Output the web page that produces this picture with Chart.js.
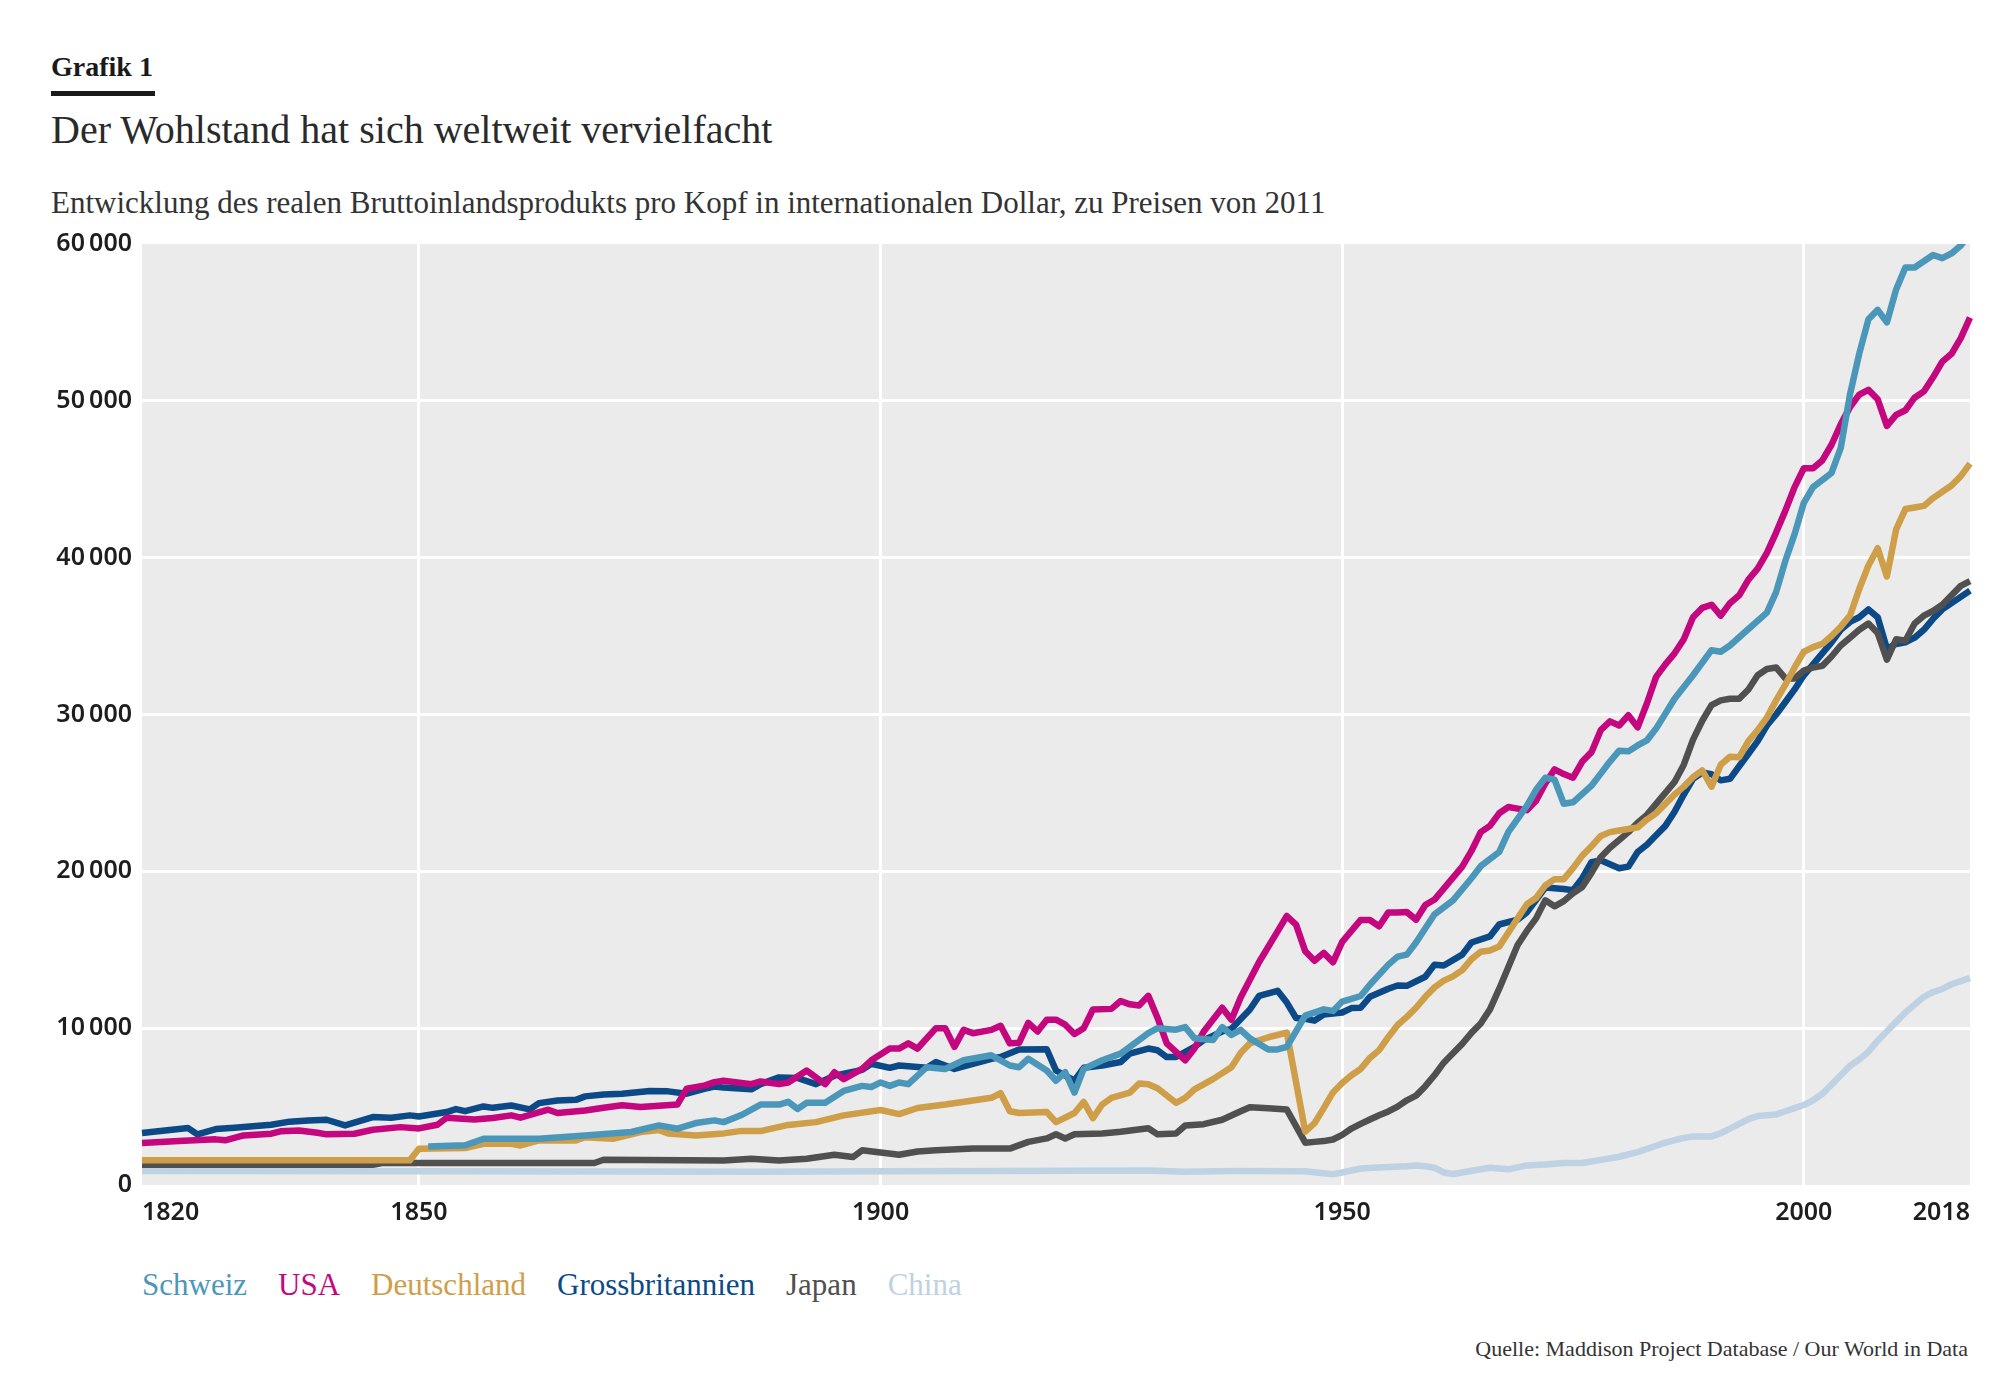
<!DOCTYPE html>
<html lang="de">
<head>
<meta charset="utf-8">
<title>Grafik 1</title>
<script src="https://cdn.jsdelivr.net/npm/chart.js@4.4.1/dist/chart.umd.min.js"></script>
<style>
  body { margin: 0; width: 2000px; height: 1392px; background: #fff; position: relative; overflow: hidden; }
  .txt { position: absolute; line-height: 1; white-space: nowrap; font-family: "Liberation Serif", serif; color: #222; }
  #kicker { left: 51px; top: 53px; font-size: 28px; font-weight: bold; color: #1a1a1a; }
  #bar { position: absolute; left: 51px; top: 91px; width: 104px; height: 5px; background: #1a1a1a; }
  #title { left: 51px; top: 110px; font-size: 40px; color: #2a2a2a; }
  #subtitle { left: 51px; top: 187px; font-size: 31px; color: #333; }
  #legend { left: 142px; top: 1269px; font-size: 31px; display: flex; gap: 31px; }
  #source { right: 32px; top: 1338px; font-size: 22px; color: #333; }
  #wrap { position: absolute; left: 40px; top: 219px; width: 1940px; height: 1026px; }
</style>
</head>
<body>
<div class="txt" id="kicker">Grafik 1</div>
<div id="bar"></div>
<div class="txt" id="title">Der Wohlstand hat sich weltweit vervielfacht</div>
<div class="txt" id="subtitle">Entwicklung des realen Bruttoinlandsprodukts pro Kopf in internationalen Dollar, zu Preisen von 2011</div>
<div id="wrap"><canvas id="gdp"></canvas></div>
<div class="txt" id="legend"></div>
<div class="txt" id="source">Quelle: Maddison Project Database / Our World in Data</div>

<script>
// DATEN (BIP pro Kopf)
const xTickLabels = [1820, 1850, 1900, 1950, 2000, 2018];
const yTickLabels = [0, 10000, 20000, 30000, 40000, 50000, 60000];

const schweizYears = [
  1851, 1855, 1857, 1863, 1868, 1873, 1876, 1878, 1880, 1882,
  1883, 1885, 1887, 1889, 1890, 1891, 1892, 1894, 1896, 1898,
  1899, 1900, 1901, 1902, 1903, 1905, 1907, 1909, 1912, 1914,
  1915, 1916, 1918, 1919, 1920, 1921, 1922, 1924, 1926, 1927,
  1929, 1930, 1932, 1933, 1934, 1936, 1937, 1938, 1939, 1940,
  1942, 1943, 1944, 1946, 1948, 1949, 1950, 1951, 1952, 1953,
  1955, 1956, 1957, 1958, 1960, 1962, 1964, 1965, 1967, 1968,
  1970, 1971, 1972, 1973, 1974, 1975, 1977, 1978, 1979, 1980,
  1981, 1982, 1983, 1984, 1986, 1988, 1990, 1991, 1992, 1994,
  1996, 1997, 1998, 1999, 2000, 2001, 2003, 2004, 2005, 2006,
  2007, 2008, 2009, 2010, 2011, 2012, 2014, 2015, 2016, 2017, 2018,
];
const schweizValues = [
  2450, 2530, 2950, 2950, 3160, 3380, 3800, 3590, 3950, 4120,
  4010, 4480, 5130, 5130, 5300, 4850, 5240, 5250, 6000, 6320,
  6250, 6540, 6320, 6540, 6430, 7510, 7400, 7950, 8270, 7620,
  7510, 8050, 7300, 6650, 7190, 5890, 7400, 7950, 8380, 8810,
  9680, 10000, 9900, 10070, 9350, 9240, 10070, 9570, 9890, 9350,
  8640, 8640, 8810, 10800, 11200, 11100, 11700, 11870, 12050, 12770,
  14050, 14560, 14690, 15460, 17260, 18150, 19560, 20330, 21230, 22510,
  24180, 25200, 25970, 25850, 24310, 24400, 25460, 26230, 27000, 27690,
  27650, 28030, 28350, 29100, 31000, 32500, 34100, 34000, 34400, 35450,
  36500, 37800, 39800, 41500, 43500, 44500, 45400, 47000, 50400, 53000,
  55200, 55800, 55000, 57100, 58500, 58500, 59300, 59100, 59400, 59900, 60700,
];

const usaYears = [
  1820, 1824, 1828, 1829, 1831, 1834, 1835, 1837, 1839, 1840,
  1843, 1845, 1848, 1850, 1852, 1853, 1856, 1858, 1860, 1861,
  1864, 1865, 1868, 1870, 1872, 1874, 1876, 1878, 1879, 1881,
  1882, 1883, 1886, 1887, 1889, 1890, 1892, 1894, 1895, 1896,
  1898, 1899, 1901, 1902, 1903, 1904, 1906, 1907, 1908, 1909,
  1910, 1912, 1913, 1914, 1915, 1916, 1917, 1918, 1919, 1920,
  1921, 1922, 1923, 1925, 1926, 1927, 1928, 1929, 1930, 1931,
  1933, 1934, 1935, 1937, 1938, 1939, 1941, 1943, 1944, 1945,
  1946, 1947, 1948, 1949, 1950, 1951, 1952, 1953, 1954, 1955,
  1956, 1957, 1958, 1959, 1960, 1961, 1962, 1963, 1964, 1965,
  1966, 1967, 1968, 1969, 1970, 1971, 1972, 1973, 1974, 1975,
  1976, 1977, 1978, 1979, 1980, 1981, 1982, 1983, 1984, 1985,
  1986, 1987, 1988, 1989, 1990, 1991, 1992, 1993, 1994, 1995,
  1996, 1997, 1998, 1999, 2000, 2001, 2002, 2003, 2004, 2005,
  2006, 2007, 2008, 2009, 2010, 2011, 2012, 2013, 2014, 2015, 2016, 2017, 2018,
];
const usaValues = [
  2675, 2800, 2910, 2850, 3160, 3270, 3420, 3480, 3330, 3230,
  3270, 3520, 3690, 3610, 3840, 4290, 4180, 4270, 4440, 4290,
  4800, 4590, 4750, 4930, 5080, 4970, 5050, 5140, 6140, 6350,
  6560, 6650, 6430, 6600, 6430, 6540, 7300, 6430, 7190, 6750,
  7400, 7950, 8700, 8700, 9030, 8700, 10000, 10000, 8810, 9890,
  9680, 9890, 10150, 9030, 9070, 10330, 9790, 10540, 10540, 10220,
  9630, 10000, 11190, 11230, 11730, 11520, 11450, 12060, 10650, 9030,
  7950, 8700, 9790, 11300, 10540, 11950, 14220, 16170, 17150, 16600,
  14900, 14300, 14800, 14200, 15500, 16200, 16900, 16900, 16500, 17380,
  17380, 17400, 16920, 17850, 18200, 18900, 19600, 20300, 21300, 22500,
  22900, 23700, 24100, 24000, 23900, 24500, 25600, 26500, 26200, 25970,
  27000, 27600, 29000, 29560, 29300, 29950, 29180, 30700, 32400, 33200,
  33900, 34800, 36200, 36800, 37000, 36300, 37100, 37600, 38600, 39300,
  40300, 41600, 43000, 44500, 45700, 45700, 46200, 47200, 48500, 49600,
  50400, 50700, 50100, 48400, 49100, 49400, 50200, 50600, 51500, 52500, 53000, 54000, 55300,
];

const deutschlandYears = [
  1820, 1849, 1850, 1855, 1857, 1860, 1861, 1863, 1867, 1868,
  1871, 1874, 1876, 1877, 1880, 1883, 1885, 1887, 1890, 1893,
  1896, 1900, 1902, 1904, 1907, 1910, 1912, 1913, 1914, 1915,
  1918, 1919, 1921, 1922, 1923, 1924, 1925, 1927, 1928, 1929,
  1930, 1932, 1933, 1934, 1936, 1938, 1939, 1940, 1942, 1944,
  1946, 1947, 1948, 1949, 1950, 1951, 1952, 1953, 1954, 1955,
  1956, 1957, 1958, 1959, 1960, 1961, 1962, 1963, 1964, 1965,
  1966, 1967, 1968, 1969, 1970, 1971, 1972, 1973, 1974, 1975,
  1976, 1977, 1978, 1979, 1980, 1981, 1982, 1983, 1984, 1985,
  1986, 1987, 1988, 1989, 1990, 1991, 1992, 1993, 1994, 1995,
  1996, 1997, 1998, 1999, 2000, 2001, 2002, 2003, 2004, 2005,
  2006, 2007, 2008, 2009, 2010, 2011, 2012, 2013, 2014, 2015, 2016, 2017, 2018,
];
const deutschlandValues = [
  1571, 1571, 2314, 2360, 2630, 2630, 2520, 2840, 2840, 3050,
  2950, 3380, 3500, 3290, 3160, 3290, 3450, 3440, 3830, 4010,
  4440, 4780, 4520, 4910, 5130, 5390, 5560, 5850, 4700, 4590,
  4650, 4010, 4590, 5300, 4260, 5130, 5560, 5890, 6470, 6430,
  6170, 5240, 5560, 6100, 6750, 7510, 8420, 9030, 9420, 9720,
  3400, 3940, 4900, 5900, 6500, 7000, 7400, 8100, 8600, 9440,
  10200, 10720, 11300, 12000, 12600, 13030, 13300, 13700, 14400, 14870,
  14950, 15200, 16100, 17000, 17900, 18300, 19100, 19500, 19500, 20200,
  21000, 21600, 22250, 22500, 22600, 22700, 22800, 23300, 23700, 24300,
  24900, 25400, 26000, 26430, 25400, 26800, 27300, 27280, 28300, 29000,
  29800, 30900, 31900, 33000, 34000, 34300, 34500, 35000, 35600, 36300,
  38000, 39500, 40600, 38800, 41800, 43100, 43200, 43300, 43800, 44200, 44600, 45200, 46000,
];

const grossbritannienYears = [
  1820, 1825, 1826, 1828, 1830, 1834, 1836, 1838, 1840, 1842,
  1845, 1847, 1849, 1850, 1853, 1854, 1855, 1857, 1858, 1860,
  1862, 1863, 1865, 1867, 1868, 1870, 1872, 1875, 1877, 1879,
  1881, 1882, 1883, 1886, 1887, 1889, 1891, 1893, 1895, 1898,
  1899, 1901, 1902, 1905, 1906, 1908, 1910, 1912, 1913, 1915,
  1918, 1919, 1921, 1922, 1924, 1926, 1927, 1929, 1930, 1931,
  1932, 1934, 1935, 1937, 1938, 1940, 1941, 1943, 1944, 1945,
  1946, 1947, 1948, 1950, 1951, 1952, 1953, 1955, 1956, 1957,
  1959, 1960, 1961, 1963, 1964, 1966, 1967, 1969, 1970, 1972,
  1974, 1975, 1976, 1977, 1978, 1980, 1981, 1982, 1983, 1984,
  1985, 1986, 1987, 1988, 1989, 1990, 1991, 1992, 1993, 1994,
  1995, 1996, 1997, 1998, 1999, 2000, 2001, 2002, 2003, 2004,
  2005, 2006, 2007, 2008, 2009, 2010, 2011, 2012, 2013, 2014, 2015, 2016, 2017, 2018,
];
const grossbritannienValues = [
  3312, 3630, 3227, 3567, 3650, 3840, 4040, 4120, 4160, 3800,
  4330, 4290, 4440, 4370, 4650, 4840, 4710, 5010, 4920, 5070,
  4820, 5220, 5390, 5430, 5650, 5770, 5820, 5990, 5970, 5820,
  6140, 6280, 6210, 6100, 6430, 6860, 6820, 6430, 6970, 7340,
  7730, 7470, 7620, 7470, 7840, 7400, 7730, 8050, 8160, 8640,
  8660, 7300, 6650, 7470, 7620, 7840, 8380, 8700, 8590, 8160,
  8160, 8810, 9240, 9790, 9960, 11190, 12060, 12380, 11630, 10650,
  10600, 10480, 10870, 11000, 11280, 11300, 12000, 12510, 12720, 12700,
  13280, 14050, 14000, 14690, 15460, 15850, 16610, 16920, 17380, 18970,
  18870, 18800, 19560, 20590, 20700, 20200, 20300, 21230, 21700, 22300,
  22900, 23800, 24900, 25900, 26300, 26200, 25800, 25900, 26700, 27500,
  28300, 29300, 30000, 30800, 31600, 32500, 33200, 33900, 34600, 35400,
  35900, 36200, 36700, 36200, 34200, 34500, 34600, 34900, 35400, 36100, 36700, 37100, 37500, 37900,
];

const japanYears = [
  1820, 1845, 1846, 1869, 1870, 1883, 1886, 1889, 1892, 1895,
  1897, 1898, 1902, 1904, 1906, 1910, 1914, 1916, 1918, 1919,
  1920, 1921, 1924, 1926, 1929, 1930, 1932, 1933, 1935, 1937,
  1939, 1940, 1942, 1944, 1946, 1947, 1948, 1949, 1950,
  1951, 1952, 1953, 1954, 1955, 1956, 1957, 1958, 1959, 1960,
  1961, 1962, 1963, 1964, 1965, 1966, 1967, 1968, 1969, 1970,
  1971, 1972, 1973, 1974, 1975, 1976, 1977, 1978, 1979, 1980,
  1981, 1982, 1983, 1984, 1985, 1986, 1987, 1988, 1989, 1990,
  1991, 1992, 1993, 1994, 1995, 1996, 1997, 1998, 1999, 2000,
  2001, 2002, 2003, 2004, 2005, 2006, 2007, 2008, 2009, 2010,
  2011, 2012, 2013, 2014, 2015, 2016, 2017, 2018,
];
const japanValues = [
  1295, 1295, 1400, 1400, 1610, 1560, 1670, 1560, 1670, 1930,
  1780, 2210, 1930, 2140, 2210, 2320, 2320, 2750, 2970, 3230,
  2970, 3230, 3290, 3400, 3620, 3230, 3290, 3790, 3880, 4160,
  4700, 4960, 4900, 4810, 2700, 2750, 2800, 2900, 3200,
  3600, 3900, 4180, 4450, 4690, 5000, 5400, 5700, 6300, 7000,
  7800, 8400, 9000, 9700, 10300, 11200, 12500, 13900, 15300, 16200,
  17000, 18150, 17770, 18100, 18600, 19000, 19900, 20900, 21500, 22000,
  22500, 23100, 23600, 24300, 25000, 25700, 26800, 28400, 29600, 30600,
  30900, 31000, 31000, 31600, 32500, 32900, 33000, 32300, 32300, 32800,
  33000, 33100, 33700, 34400, 34900, 35400, 35800, 35200, 33500, 34800,
  34700, 35800, 36300, 36600, 37000, 37600, 38200, 38500,
];

const chinaYears = [
  1820, 1850, 1870, 1887, 1900, 1913, 1929, 1933, 1938, 1946,
  1949, 1950, 1952, 1955, 1957, 1958, 1959, 1960, 1961, 1962,
  1963, 1965, 1966, 1967, 1968, 1970, 1972, 1974, 1976, 1977,
  1978, 1980, 1982, 1984, 1985, 1987, 1988, 1990, 1991, 1992,
  1993, 1994, 1995, 1997, 1998, 1999, 2000, 2001, 2002, 2003,
  2004, 2005, 2006, 2007, 2008, 2009, 2010, 2011, 2012, 2013, 2014, 2015, 2016, 2017, 2018,
];
const chinaValues = [
  900, 880, 860, 850, 870, 900, 920, 850, 900, 880,
  690, 800, 1050, 1150, 1200, 1250, 1200, 1100, 800, 700,
  800, 1000, 1100, 1050, 1000, 1250, 1300, 1400, 1400, 1500,
  1600, 1800, 2100, 2500, 2700, 3000, 3100, 3100, 3300, 3600,
  3900, 4200, 4400, 4500, 4700, 4900, 5100, 5400, 5800, 6400,
  7000, 7600, 8000, 8500, 9200, 9800, 10400, 11000, 11500, 12000, 12300, 12500, 12800, 13000, 13200,
];

const laender = ["Schweiz", "USA", "Deutschland", "Grossbritannien", "Japan", "China"];
const farben = ["#4b97ba", "#c4077e", "#cf9e48", "#0c4a87", "#505050", "#bed2e4"];
const jahre = [schweizYears, usaYears, deutschlandYears, grossbritannienYears, japanYears, chinaYears];
const werte = [schweizValues, usaValues, deutschlandValues, grossbritannienValues, japanValues, chinaValues];
// Zeichenreihenfolge: kleinere Zahl liegt oben
const ebenen = [1, 2, 3, 5, 4, 6];

// LEGENDE (farbiger Text)
const legend = document.getElementById("legend");
laender.forEach((name, i) => {
  const span = document.createElement("span");
  span.textContent = name;
  span.style.color = farben[i];
  legend.appendChild(span);
});

const FLAECHE = "#ebebeb";
const TICKFONT = { family: "'Noto Sans', sans-serif", size: 25, weight: "600" };

// Hintergrund der Zeichenfläche
const plotHintergrund = {
  id: "plotHintergrund",
  beforeDraw(chart) {
    const { ctx, chartArea: a } = chart;
    ctx.save();
    ctx.fillStyle = FLAECHE;
    ctx.fillRect(a.left, a.top, a.right - a.left, a.bottom - a.top);
    ctx.restore();
  },
};

// Jahreszahlen: erste links-, letzte rechtsbündig
const jahresLabels = {
  id: "jahresLabels",
  afterDraw(chart) {
    const { ctx, chartArea: a } = chart;
    const x = chart.scales.x;
    ctx.save();
    ctx.font = `${TICKFONT.weight} ${TICKFONT.size}px ${TICKFONT.family}`;
    ctx.fillStyle = "#1e1e1e";
    ctx.textBaseline = "middle";
    xTickLabels.forEach((jahr, i) => {
      ctx.textAlign = i === 0 ? "left" : i === xTickLabels.length - 1 ? "right" : "center";
      ctx.fillText(String(jahr), x.getPixelForValue(jahr), a.bottom + 28);
    });
    ctx.restore();
  },
};

const datasets = laender.map((name, i) => ({
  label: name,
  data: jahre[i].map((j, k) => ({ x: j, y: werte[i][k] })),
  borderColor: farben[i],
  backgroundColor: farben[i],
  borderWidth: 6.5,
  borderJoinStyle: "round",
  pointRadius: 0,
  tension: 0,
  fill: false,
  order: ebenen[i],
  clip: { left: 3, right: 3, top: 0, bottom: 3 },
}));

const ctx = document.getElementById("gdp").getContext("2d");
new Chart(ctx, {
  type: "line",
  data: { datasets },
  options: {
    responsive: true,
    maintainAspectRatio: false,
    animation: false,
    layout: { padding: { top: 0, right: 10, bottom: 0, left: 0 } },
    plugins: {
      legend: { display: false },
      tooltip: { enabled: false },
    },
    scales: {
      x: {
        type: "linear",
        min: 1820,
        max: 2018,
        afterBuildTicks: (scale) => {
          scale.ticks = xTickLabels.map((v) => ({ value: v }));
        },
        afterFit: (scale) => {
          scale.height = 60;
        },
        ticks: { display: false },
        grid: {
          drawTicks: false,
          lineWidth: 3,
          color: (c) => (c.tick && (c.tick.value === 1820 || c.tick.value === 2018) ? "rgba(0,0,0,0)" : "#ffffff"),
        },
        border: { display: false },
      },
      y: {
        min: 0,
        max: 60000,
        afterBuildTicks: (scale) => {
          scale.ticks = yTickLabels.map((v) => ({ value: v }));
        },
        afterFit: (scale) => {
          scale.width = 102;
        },
        ticks: {
          padding: 10,
          color: "#1e1e1e",
          font: TICKFONT,
          callback: (v) => (v >= 10000 ? String(v).replace(/(\d{3})$/, "\u2009$1") : String(v)),
        },
        grid: {
          drawTicks: false,
          lineWidth: 3,
          color: (c) => (c.tick && (c.tick.value === 0 || c.tick.value === 60000) ? "rgba(0,0,0,0)" : "#ffffff"),
        },
        border: { display: false },
      },
    },
  },
  plugins: [plotHintergrund, jahresLabels],
});
</script>
</body>
</html>
